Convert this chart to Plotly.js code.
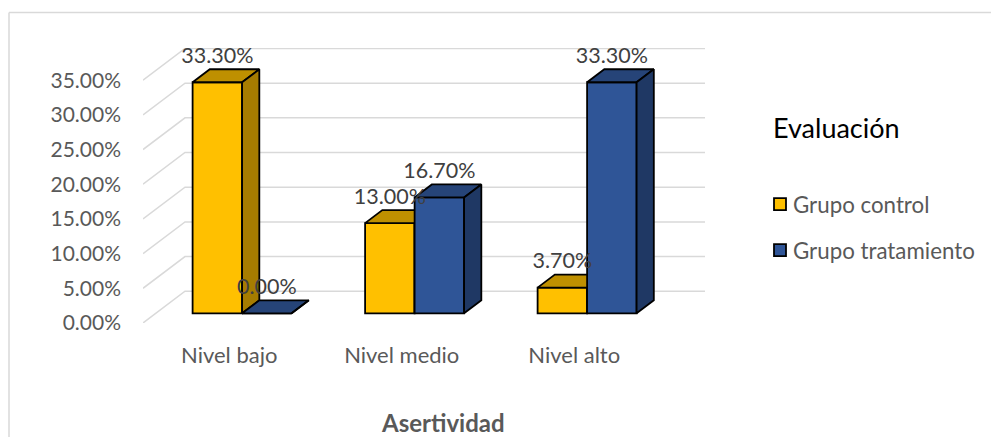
<!DOCTYPE html>
<html><head><meta charset="utf-8">
<script src="https://cdn.plot.ly/plotly-3.0.1.min.js"></script>
<style>html,body{margin:0;padding:0;background:#fff}#c{width:991px;height:437px}</style>
</head><body><div id="c"></div>
<script>
const categories = ['Nivel bajo', 'Nivel medio', 'Nivel alto'];
const control = [33.3, 13.0, 3.7];
const tratamiento = [0.0, 16.7, 33.3];
const yTicks = [0, 5, 10, 15, 20, 25, 30, 35];
const seriesNames = ['Grupo control', 'Grupo tratamiento'];

const W = 991, H = 437, L = 143, R = 705, T = 48, B = 322.7;
const xUnit = 172.5, yUnit = 6.93;
const xRange = [-0.5, -0.5 + (R - L) / xUnit];
const yRange = [0, (B - T) / yUnit];
const depthX = 42 / xUnit, depthY = 31.7 / yUnit;
const dFront = 0.306, dBack = 0.716;
const barW = 49.5 / xUnit;
const pct = v => v.toFixed(2) + '%';
const paperX = p => (p - L) / (R - L);
const paperY = p => (B - p) / (B - T);
const catPos = categories.map((_, i) => i);

function faces(vals, side) {
  const top = {x: [], y: []}, right = {x: [], y: []};
  const dd = dBack - dFront;
  catPos.forEach((c, i) => {
    const x0 = c + dFront * depthX + (side < 0 ? -barW : 0), x1 = x0 + barW, v = vals[i];
    const b = dFront * depthY, e = dd * depthY, s = dd * depthX;
    top.x.push(x0, x1, x1 + s, x0 + s, x0, null);
    top.y.push(v + b, v + b, v + b + e, v + b + e, v + b, null);
    right.x.push(x1, x1 + s, x1 + s, x1, x1, null);
    right.y.push(b, b + e, v + b + e, v + b, b, null);
  });
  return {top, right};
}
function series(vals, side, name, front, topC, sideC, xa, ya) {
  const barX = catPos.map(c => c + dFront * depthX + side * barW / 2);
  const f = faces(vals, side);
  const ln = {color: '#000', width: 1.8};
  return [
    {type: 'bar', name, x: barX, y: vals, base: vals.map(() => dFront * depthY), width: barW,
     marker: {color: front, line: {color: '#000', width: 1.8}}, xaxis: xa, yaxis: ya,
     legendgroup: name, hoverinfo: 'skip', cliponaxis: false},
    {type: 'scatter', mode: 'lines', x: f.top.x, y: f.top.y, fill: 'toself', fillcolor: topC, line: ln,
     xaxis: xa, yaxis: ya, showlegend: false, hoverinfo: 'skip', cliponaxis: false},
    {type: 'scatter', mode: 'lines', x: f.right.x, y: f.right.y, fill: 'toself', fillcolor: sideC, line: ln,
     xaxis: xa, yaxis: ya, showlegend: false, hoverinfo: 'skip', cliponaxis: false}
  ];
}

const gridX = [], gridY = [];
yTicks.forEach(v => {
  gridX.push(xRange[0], xRange[0] + depthX, xRange[1], null);
  gridY.push(v, v + depthY, v + depthY, null);
});
const grid = {type: 'scatter', mode: 'lines', x: gridX, y: gridY, line: {color: '#D9D9D9', width: 1.5},
  showlegend: false, hoverinfo: 'skip', cliponaxis: false, xaxis: 'x', yaxis: 'y'};

const labelX = [], labelY = [], labelT = [];
[[control, -1], [tratamiento, 1]].forEach(([vals, side]) => vals.forEach((v, i) => {
  labelX.push(catPos[i] + dFront * depthX + side * barW / 2);
  labelY.push(v + dFront * depthY + 3.6);
  labelT.push(pct(v));
}));
const labels = {type: 'scatter', mode: 'text', x: labelX, y: labelY, text: labelT, textposition: 'middle center',
  textfont: {family: 'Lato, sans-serif', size: 21.5, color: '#404040'}, showlegend: false, hoverinfo: 'skip',
  cliponaxis: false, xaxis: 'x3', yaxis: 'y3'};

const data = [grid]
  .concat(series(control, -1, seriesNames[0], '#FFC000', '#BF9000', '#A67C00', 'x2', 'y2'))
  .concat(series(tratamiento, 1, seriesNames[1], '#2F5597', '#264478', '#1F3864', 'x3', 'y3'))
  .concat([labels]);

const hidden = (ov) => ({range: ov === 'x' ? xRange : yRange, overlaying: ov, visible: false, fixedrange: true});
const border = {color: '#D9D9D9', width: 1.5};
const layout = {
  width: W, height: H, autosize: false, showlegend: true, barmode: 'overlay',
  margin: {l: L, r: W - R, t: T, b: H - B, pad: 0},
  paper_bgcolor: '#fff', plot_bgcolor: 'rgba(0,0,0,0)',
  font: {family: 'Lato, sans-serif', color: '#595959', size: 21},
  xaxis: {range: xRange, tickmode: 'array', tickvals: catPos, ticktext: categories, showgrid: false, zeroline: false,
    showline: false, ticks: '', ticklabelstandoff: 17, tickfont: {size: 22, color: '#595959'}, fixedrange: true},
  yaxis: {range: yRange, tickmode: 'array', tickvals: yTicks, ticktext: yTicks.map(pct), showgrid: false, zeroline: false,
    showline: false, ticks: '', ticklabelstandoff: 21, tickfont: {size: 21, color: '#595959'}, fixedrange: true},
  xaxis2: hidden('x'), yaxis2: hidden('y'), xaxis3: hidden('x'), yaxis3: hidden('y'),
  legend: {x: paperX(730), xanchor: 'left', y: paperY(183), yanchor: 'top', bgcolor: 'rgba(0,0,0,0)',
    font: {family: 'Lato, sans-serif', size: 22.3, color: '#595959'}, tracegroupgap: 14, traceorder: 'grouped', itemclick: false, itemdoubleclick: false},
  annotations: [
    {text: 'Evaluación', xref: 'paper', yref: 'paper', x: paperX(771), y: paperY(127), xanchor: 'left', yanchor: 'middle',
     showarrow: false, font: {family: 'Lato, sans-serif', size: 27, color: '#000'}},
    {text: '<b>Asertividad</b>', xref: 'paper', yref: 'paper', x: paperX(443), y: paperY(422), xanchor: 'center', yanchor: 'middle',
     showarrow: false, font: {family: 'Lato, sans-serif', size: 24, color: '#595959'}}
  ],
  shapes: [
    {type: 'line', xref: 'paper', yref: 'paper', x0: paperX(9), x1: paperX(991), y0: paperY(12.5), y1: paperY(12.5), line: border},
    {type: 'line', xref: 'paper', yref: 'paper', x0: paperX(9), x1: paperX(9), y0: paperY(12.5), y1: paperY(437), line: border}
  ]
};
Plotly.newPlot('c', data, layout, {displayModeBar: false, staticPlot: true}).then(() => {
  document.querySelectorAll('#c .legendtext').forEach(t => {
    t.setAttribute('x', 33);
    t.querySelectorAll('tspan').forEach(s => { if (s.hasAttribute('x')) s.setAttribute('x', 33); });
  });
  const g = document.querySelector('#c .legend');
  const m = /translate\(([^,]+),\s*([^)]+)\)/.exec(g.getAttribute('transform'));
  g.setAttribute('transform', 'translate(760,' + m[2] + ')');
});
</script></body></html>
